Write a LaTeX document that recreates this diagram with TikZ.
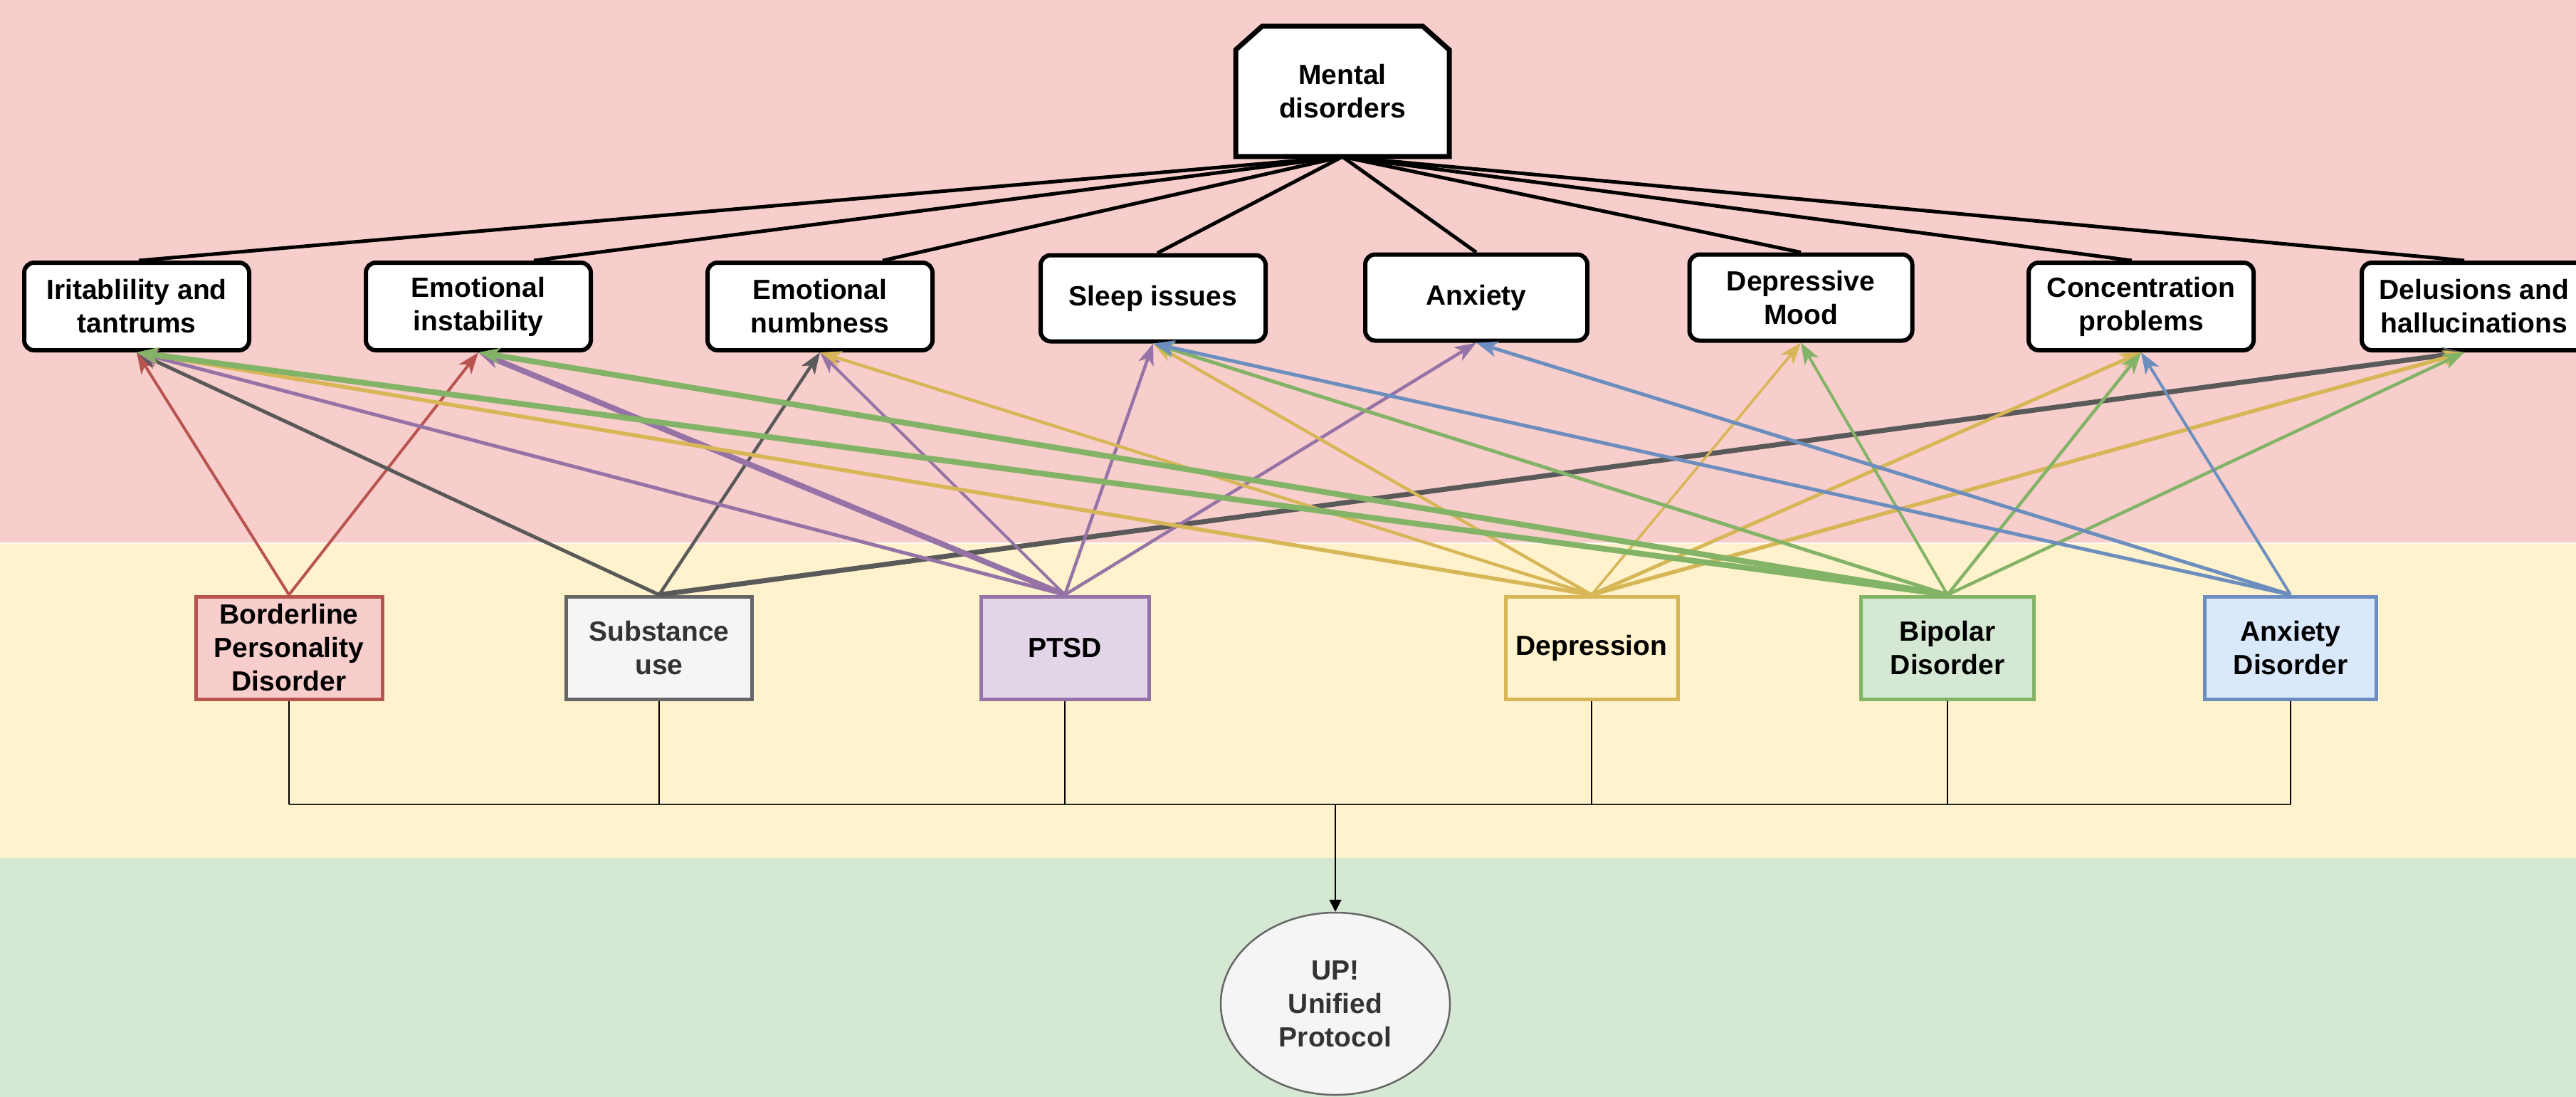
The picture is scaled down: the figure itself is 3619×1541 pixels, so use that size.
\documentclass[tikz,border=0pt]{standalone}
\usepackage{fontspec}
\setmainfont{Liberation Sans}
\usetikzlibrary{arrows.meta,shapes.geometric}
\definecolor{bgPink}{HTML}{F8CECC}
\definecolor{bgYellow}{HTML}{FFF2CC}
\definecolor{bgGreen}{HTML}{D5E8D4}
\definecolor{cRed}{HTML}{B85450}
\definecolor{cGray}{HTML}{595959}
\definecolor{cGrayB}{HTML}{666666}
\definecolor{cPurple}{HTML}{9673A6}
\definecolor{cYellow}{HTML}{D6B656}
\definecolor{cGreen}{HTML}{82B366}
\definecolor{cBlue}{HTML}{6C8EBF}
\definecolor{fGray}{HTML}{F5F5F5}
\definecolor{fPurple}{HTML}{E1D5E7}
\definecolor{fBlue}{HTML}{DAE8FC}
\definecolor{tGray}{HTML}{333333}
\tikzset{
  lbl/.style={align=center, inner sep=0pt, font=\bfseries\fontsize{39}{47}\selectfont},
  sym/.style={lbl, draw=black, line width=6pt, fill=white, rounded corners=14pt,
              minimum width=316pt, minimum height=123pt},
  dis/.style={lbl, line width=5pt, minimum height=144pt},
  blk/.style={draw=black, line width=5pt},
  ar/.style={-{Stealth[length=30pt,width=22pt,inset=8pt]}},
  eRed/.style={ar, draw=cRed, line width=4pt},
  eGray/.style={ar, draw=cGray, line width=#1},
  ePur/.style={ar, draw=cPurple, line width=#1},
  eYel/.style={ar, draw=cYellow, line width=#1},
  eGrn/.style={ar, draw=cGreen, line width=#1},
  eBlu/.style={ar, draw=cBlue, line width=#1},
  stem/.style={draw=black, line width=1.5pt},
  busline/.style={draw=black!85, line width=2.5pt},
}
\begin{document}
\begin{tikzpicture}[x=1pt,y=-1pt]
\useasboundingbox (0,0) rectangle (3619,1541);
% background bands
\fill[bgPink] (0,0) rectangle (3619,762);
\fill[bgYellow] (0,762) rectangle (3619,1205);
\fill[bgGreen] (0,1205) rectangle (3619,1541);
\draw[white!70!bgYellow, line width=2pt] (0,763) -- (3619,763);

% Mental disorders (chamfered top corners)
\draw[line width=7pt, fill=white, line join=miter] (1736,220) -- (1736,70) -- (1773,37) -- (1999,37) -- (2036,70) -- (2036,220) -- cycle;
\node[lbl, minimum width=300pt, minimum height=183pt] (md) at (1886,128.5) {Mental\\disorders};

% symptom nodes
\node[sym] (n1) at (192,430.5) {Iritablility and\\tantrums};
\node[sym] (n2) at (672,430.5) {Emotional\\instability};
\node[sym] (n3) at (1152,430.5) {Emotional\\numbness};
\node[sym, minimum height=121pt] (n4) at (1620,419) {Sleep issues};
\node[sym, minimum height=121pt, minimum width=312pt] (n5) at (2074,418) {Anxiety};
\node[sym, minimum height=121pt, minimum width=313pt] (n6) at (2530,418) {Depressive\\Mood};
\node[sym] (n7) at (3008,430.5) {Concentration\\problems};
\node[sym] (n8) at (3476,430.5) {Delusions and\\hallucinations};

% disorder nodes
\node[dis, draw=cRed, fill=bgPink, minimum width=262pt] (bpd) at (406,910) {Borderline\\Personality\\Disorder};
\node[dis, draw=cGrayB, fill=fGray, text=tGray, minimum width=261pt] (sub) at (926,910) {Substance\\use};
\node[dis, draw=cPurple, fill=fPurple, minimum width=236pt] (ptsd) at (1496,910) {PTSD};
\node[dis, draw=cYellow, fill=bgYellow, minimum width=242pt] (dep) at (2236,910) {Depression};
\node[dis, draw=cGreen, fill=bgGreen, minimum width=243pt] (bip) at (2736,910) {Bipolar\\Disorder};
\node[dis, draw=cBlue, fill=fBlue, minimum width=241pt] (anx) at (3218,910) {Anxiety\\Disorder};

% Unified protocol
\node[ellipse, lbl, draw=cGrayB, line width=2.5pt, fill=fGray, text=tGray,
      minimum width=322pt, minimum height=256pt] (up) at (1876,1410) {UP!\\Unified\\Protocol};

% black lines from Mental disorders
\draw[blk] (md.south) -- ([xshift=3pt]n1.north);
\draw[blk] (md.south) -- ([xshift=78pt]n2.north);
\draw[blk] (md.south) -- ([xshift=88pt]n3.north);
\draw[blk] (md.south) -- ([xshift=6pt]n4.north);
\draw[blk] (md.south) -- (n5.north);
\draw[blk] (md.south) -- (n6.north);
\draw[blk] (md.south) -- ([xshift=-13pt]n7.north);
\draw[blk] (md.south) -- ([xshift=-14pt]n8.north);

% coloured arrows
\draw[eRed] (bpd.north) -- (n1.south);
\draw[eRed] (bpd.north) -- (n2.south);

\draw[eGray=5pt] (sub.north) -- (n1.south);
\draw[eGray=4.5pt] (sub.north) -- (n3.south);
\draw[eGray=7pt] (sub.north) -- ([xshift=-14pt]n8.south);

\draw[ePur=5pt] (ptsd.north) -- (n1.south);
\draw[ePur=8pt] (ptsd.north) -- (n2.south);
\draw[ePur=4pt] (ptsd.north) -- (n3.south);
\draw[ePur=4.5pt] (ptsd.north) -- (n4.south);
\draw[ePur=4.5pt] (ptsd.north) -- (n5.south);

\draw[eYel=5.5pt] (dep.north) -- (n1.south);
\draw[eYel=4.5pt] (dep.north) -- (n3.south);
\draw[eYel=4.5pt] (dep.north) -- (n4.south);
\draw[eYel=3.5pt] (dep.north) -- (n6.south);
\draw[eYel=5pt] (dep.north) -- (n7.south);
\draw[eYel=5.5pt] (dep.north) -- ([xshift=-14pt]n8.south);

\draw[eGrn=8pt] (bip.north) -- (n1.south);
\draw[eGrn=8pt] (bip.north) -- (n2.south);
\draw[eGrn=5pt] (bip.north) -- (n4.south);
\draw[eGrn=4pt] (bip.north) -- (n6.south);
\draw[eGrn=4.5pt] (bip.north) -- (n7.south);
\draw[eGrn=4.5pt] (bip.north) -- ([xshift=-14pt]n8.south);

\draw[eBlu=5pt] (anx.north) -- (n4.south);
\draw[eBlu=5pt] (anx.north) -- (n5.south);
\draw[eBlu=4pt] (anx.north) -- (n7.south);

% bus to Unified Protocol
\coordinate (busM) at (1876,1130);
\draw[stem] (bpd.south) -- (bpd.south |- busM);
\draw[stem] (sub.south) -- (sub.south |- busM);
\draw[stem] (ptsd.south) -- (ptsd.south |- busM);
\draw[stem] (dep.south) -- (dep.south |- busM);
\draw[stem] (bip.south) -- (bip.south |- busM);
\draw[stem] (anx.south) -- (anx.south |- busM);
\draw[busline] (bpd.south |- busM) -- (anx.south |- busM);
\draw[stem, line width=2pt, -{Triangle[length=17pt,width=17pt]}] (busM) -- (up.north);
\end{tikzpicture}
\end{document}
